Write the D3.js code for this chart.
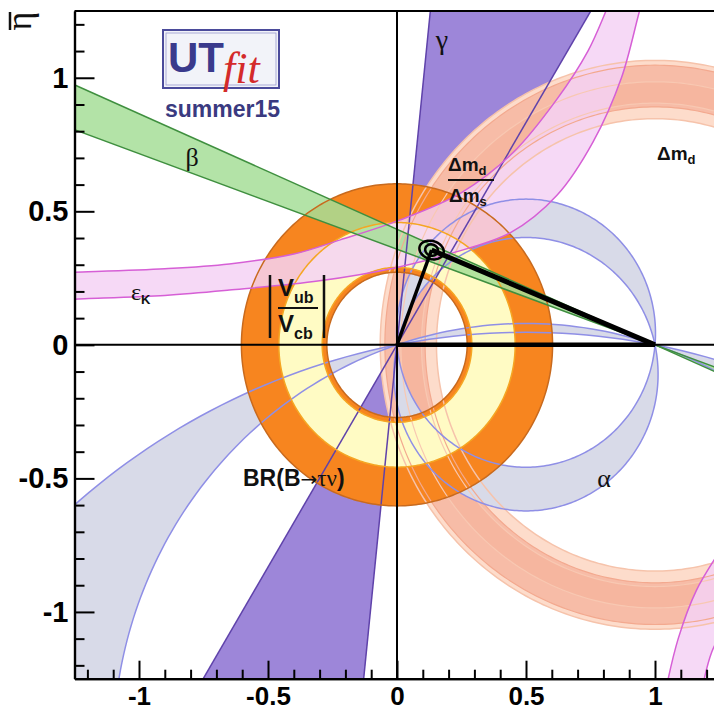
<!DOCTYPE html>
<html lang="en">
<head>
<meta charset="UTF-8" />
<title>UTfit summer15 - rho/eta plane</title>
<script src="https://d3js.org/d3.v7.min.js"></script>
<style>
  body { margin: 0; background: #fff; }
  svg { display: block; }
  .tick text { font-family: "Liberation Sans", Arial, sans-serif; font-weight: bold; font-size: 29px; fill: #000; }
  .xaxis .tick text { font-size: 26px; }
  .lbl { font-family: "Liberation Sans", Arial, sans-serif; font-weight: bold; fill: #111; }
  .greek { font-family: "Liberation Serif", "DejaVu Serif", serif; fill: #111; }
  .arrow { font-family: "DejaVu Sans", sans-serif; fill: #111; }
</style>
</head>
<body>
<div id="chart"></div>
<script>
  // apex of the triangle (rho, eta) and the size of its two contours
  const apex = [0.134, 0.355];
  const contourSizes = [[0.048, 0.034], [0.025, 0.021]];

  // angle constraints, degrees
  const gammaDeg = [59.0, 84.1];
  const betaDeg = [19.7, 23.4];
  const alphaDeg = [[85.0, 102.4], [161.8, 169.3]];

  // circle constraints: [inner, outer] radius
  const dmdRadii = [0.847, 1.065];
  const dmd68Radii = [0.891, 1.047];
  const dmsRadii = [0.905, 0.985];
  const brTauNuRadii = [0.272, 0.603];
  const vubVcbRadii = [0.29, 0.458];

  // eps_K band edges (rho, eta)
  const epsKUpper = [[-1.3, 0.27], [-1.25, 0.272], [-0.9, 0.285], [-0.65, 0.303], [-0.4, 0.34], [-0.22, 0.393],
    [0.01, 0.467], [0.25, 0.57], [0.45, 0.72], [0.62, 0.92], [0.74, 1.1], [0.81, 1.25], [0.84, 1.32]];
  const epsKLower = [[-1.3, 0.168], [-1.25, 0.171], [-0.9, 0.185], [-0.65, 0.205], [-0.3, 0.24], [0.0, 0.29],
    [0.2, 0.34], [0.44, 0.42], [0.62, 0.56], [0.76, 0.76], [0.87, 1.0], [0.94, 1.25], [0.97, 1.35]];
  const epsKBranchA = [[1.04, -1.3], [1.09, -1.1], [1.16, -0.92], [1.26, -0.76], [1.32, -0.68]];
  const epsKBranchB = [[1.18, -1.3], [1.22, -1.15], [1.28, -1.04], [1.32, -0.98]];

  const majorTicks = [-1, -0.5, 0, 0.5, 1];
  const minorTicks = [-1.2, -1.1, -0.9, -0.8, -0.7, -0.6, -0.4, -0.3, -0.2, -0.1,
    0.1, 0.2, 0.3, 0.4, 0.6, 0.7, 0.8, 0.9, 1.1, 1.2];

  const width = 714, height = 713;
  const svg = d3.select("#chart").append("svg").attr("width", width).attr("height", height);

  const x = d3.scaleLinear().domain([-1.25, 1.25]).range([74.5, 719.5]);
  const y = d3.scaleLinear().domain([-1.25, 1.25]).range([678.7, 11]);

  svg.append("defs").append("clipPath").attr("id", "plot").append("rect")
    .attr("x", x(-1.25)).attr("y", y(1.25))
    .attr("width", x(1.25) - x(-1.25)).attr("height", y(-1.25) - y(1.25));

  const plot = svg.append("g").attr("clip-path", "url(#plot)");

  const line = d3.line().x((d) => x(d[0])).y((d) => y(d[1]));
  const smooth = d3.line().x((d) => x(d[0])).y((d) => y(d[1])).curve(d3.curveCatmullRom);
  const rad = (d) => (d * Math.PI) / 180;
  const far = 4;

  function circle(cx, cy, r) {
    return d3.range(0, 361).map((i) => [cx + r * Math.cos(rad(i)), cy + r * Math.sin(rad(i))]);
  }
  const closed = (pts) => line(pts) + "Z";
  const ring = (cx, cy, r) => closed(circle(cx, cy, r[1])) + closed(circle(cx, cy, r[0]).reverse());
  const ray = (o, a) => [o[0] + far * Math.cos(rad(a)), o[1] + far * Math.sin(rad(a))];
  const wedge = (o, a0, a1) => closed([o, ray(o, a0), ray(o, a1)]);
  const fullLine = (o, a) => line([ray(o, a + 180), ray(o, a)]);
  const band = (up, lo) => smooth(up) + smooth(lo.slice().reverse()).replace(/^M/, "L") + "Z";
  // alpha: circles through (0,0) and (1,0)
  const alphaCircle = (a) => {
    const c = 0.5 / Math.tan(rad(a));
    return circle(0.5, c, Math.hypot(0.5, c));
  };

  // ---- fills ----
  plot.append("path")
    .attr("d", wedge([0, 0], gammaDeg[0], gammaDeg[1]) + wedge([0, 0], gammaDeg[0] + 180, gammaDeg[1] + 180))
    .attr("fill", "#9d86d9");

  plot.append("path").attr("d", ring(1, 0, dmdRadii)).attr("fill", "#fddccb").attr("fill-rule", "evenodd");
  plot.append("path").attr("d", ring(1, 0, dmd68Radii)).attr("fill", "#f7bca7").attr("fill-rule", "evenodd");
  plot.append("path").attr("d", ring(1, 0, dmsRadii)).attr("fill", "#f4ab92")
    .attr("fill-opacity", 0.35).attr("fill-rule", "evenodd");

  alphaDeg.forEach((a) => {
    plot.append("path")
      .attr("d", closed(alphaCircle(a[0])) + closed(alphaCircle(a[1])))
      .attr("fill", "#d8dae8").attr("fill-rule", "evenodd");
  });

  plot.append("path").attr("d", ring(0, 0, brTauNuRadii)).attr("fill", "#f7851f").attr("fill-rule", "evenodd");
  plot.append("path").attr("d", ring(0, 0, vubVcbRadii)).attr("fill", "#fffbc4").attr("fill-rule", "evenodd");

  plot.append("path").attr("d", band(epsKUpper, epsKLower))
    .attr("fill", "#f4d2f4").attr("fill-opacity", 0.85);
  plot.append("path").attr("d", band(epsKBranchA, epsKBranchB))
    .attr("fill", "#f4d2f4").attr("fill-opacity", 0.85);

  plot.append("path")
    .attr("d", wedge([1, 0], 180 - betaDeg[1], 180 - betaDeg[0]) + wedge([1, 0], -betaDeg[1], -betaDeg[0]))
    .attr("fill", "#a6de98").attr("fill-opacity", 0.85);

  // ---- edges ----
  const edge = (d, color, w) =>
    plot.append("path").attr("d", d).attr("fill", "none").attr("stroke", color).attr("stroke-width", w || 1.5);

  dmdRadii.forEach((r) => edge(closed(circle(1, 0, r)), "#f6c3ab"));
  dmd68Radii.forEach((r) => edge(closed(circle(1, 0, r)), "#f3a98f", 1.2));
  dmsRadii.forEach((r) => edge(closed(circle(1, 0, r)), "#f8c8b2", 1.2));

  alphaDeg.forEach((a) => a.forEach((v) => edge(closed(alphaCircle(v)), "#8f8fe6")));

  gammaDeg.forEach((a) => edge(fullLine([0, 0], a), "#5f42aa"));

  brTauNuRadii.forEach((r) => edge(closed(circle(0, 0, r)), "#c86a1e"));
  vubVcbRadii.forEach((r) => edge(closed(circle(0, 0, r)), "#f5a623"));

  [epsKUpper, epsKLower, epsKBranchA, epsKBranchB].forEach((pts) => edge(smooth(pts), "#d65fd6"));

  betaDeg.forEach((a) => edge(fullLine([1, 0], 180 - a), "#3f8f3f"));

  // ---- axes through origin ----
  plot.append("line").attr("x1", x(-1.25)).attr("x2", x(1.25)).attr("y1", y(0)).attr("y2", y(0))
    .attr("stroke", "#000").attr("stroke-width", 2);
  plot.append("line").attr("x1", x(0)).attr("x2", x(0)).attr("y1", y(-1.25)).attr("y2", y(1.25))
    .attr("stroke", "#000").attr("stroke-width", 2);

  // ---- triangle and contours ----
  plot.append("path").attr("d", line([[0, 0], [1, 0]])).attr("stroke", "#000").attr("stroke-width", 4.5);
  plot.append("path").attr("d", line([[0, 0], apex])).attr("stroke", "#000").attr("stroke-width", 3.5);
  plot.append("path").attr("d", line([apex, [1, 0]])).attr("stroke", "#000").attr("stroke-width", 5);

  contourSizes.forEach((s) => {
    const th = rad(-15);
    const pts = d3.range(0, 361, 5).map((i) => {
      const t = rad(i);
      const u = s[0] * Math.cos(t), v = s[1] * Math.sin(t);
      return [apex[0] + u * Math.cos(th) - v * Math.sin(th), apex[1] + u * Math.sin(th) + v * Math.cos(th)];
    });
    plot.append("path").attr("d", closed(pts)).attr("fill", "none").attr("stroke", "#000").attr("stroke-width", 2.5);
  });

  // ---- frame and ticks ----
  const axisStyle = (g) => {
    g.selectAll("line").attr("stroke", "#000").attr("stroke-width", 2);
    g.select(".domain").attr("stroke", "#000").attr("stroke-width", 2.2);
  };

  svg.append("g").attr("transform", `translate(${x(-1.25)},0)`)
    .call(d3.axisLeft(y).tickValues(minorTicks).tickSize(-10).tickSizeOuter(0).tickFormat(""))
    .call(axisStyle);
  svg.append("g").attr("transform", `translate(${x(-1.25)},0)`)
    .call(d3.axisLeft(y).tickValues(majorTicks).tickSize(-20).tickSizeOuter(0).tickPadding(6).tickFormat((d) => String(d)))
    .call(axisStyle);

  svg.append("g").attr("transform", `translate(0,${y(-1.25)})`)
    .call(d3.axisBottom(x).tickValues(minorTicks).tickSize(-9).tickSizeOuter(0).tickFormat(""))
    .call(axisStyle);
  svg.append("g").attr("class", "xaxis").attr("transform", `translate(0,${y(-1.25)})`)
    .call(d3.axisBottom(x).tickValues(majorTicks).tickSize(-18).tickSizeOuter(0).tickPadding(8).tickFormat((d) => String(d)))
    .call(axisStyle);

  svg.append("line").attr("x1", x(-1.25)).attr("x2", x(1.25)).attr("y1", y(1.25)).attr("y2", y(1.25))
    .attr("stroke", "#000").attr("stroke-width", 2.2);
  svg.append("line").attr("x1", x(1.25)).attr("x2", x(1.25)).attr("y1", y(1.25)).attr("y2", y(-1.25))
    .attr("stroke", "#000").attr("stroke-width", 2.2);

  // y axis title: eta-bar, rotated
  const yt = svg.append("g").attr("transform", "translate(31,21) rotate(-90)");
  yt.append("text").attr("class", "greek").attr("text-anchor", "middle").attr("font-size", 36).text("η");
  yt.append("line").attr("x1", -9).attr("x2", 9).attr("y1", -21).attr("y2", -21).attr("stroke", "#111").attr("stroke-width", 2.5);

  // ---- logo ----
  const logo = svg.append("g");
  logo.append("rect").attr("x", 163).attr("y", 30).attr("width", 116).attr("height", 58)
    .attr("fill", "#f2f3f9").attr("stroke", "#4b4b9b").attr("stroke-width", 2);
  logo.append("rect").attr("x", 166).attr("y", 33).attr("width", 110).attr("height", 52)
    .attr("fill", "none").attr("stroke", "#9a9ad0").attr("stroke-width", 0.8);
  logo.append("text").attr("x", 168).attr("y", 72).attr("class", "lbl").attr("font-size", 42)
    .style("fill", "#3a3a8c").text("UT");
  logo.append("text").attr("x", 223).attr("y", 83)
    .attr("font-family", "Liberation Serif, serif").attr("font-style", "italic").attr("font-size", 44)
    .attr("fill", "#d42a2a").text("fit");
  logo.append("text").attr("x", 165).attr("y", 117).attr("class", "lbl").attr("font-size", 23)
    .style("fill", "#3a3a80").text("summer15");

  // ---- constraint labels ----
  svg.append("text").attr("class", "greek").attr("x", 442).attr("y", 49).attr("text-anchor", "middle")
    .attr("font-size", 28).text("γ");
  svg.append("text").attr("class", "greek").attr("x", 192).attr("y", 166).attr("text-anchor", "middle")
    .attr("font-size", 26).text("β");
  svg.append("text").attr("class", "greek").attr("x", 604).attr("y", 487).attr("text-anchor", "middle")
    .attr("font-size", 26).text("α");

  const eps = svg.append("text").attr("x", 131).attr("y", 300);
  eps.append("tspan").attr("class", "greek").attr("font-size", 24).text("ε");
  eps.append("tspan").attr("class", "lbl").attr("font-size", 13).attr("dy", 4).text("K");

  const dm = (xp, yp, sub) => {
    const t = svg.append("text").attr("x", xp).attr("y", yp).attr("class", "lbl").attr("font-size", 19);
    t.append("tspan").text("Δm");
    t.append("tspan").attr("font-size", 13).attr("dy", 4).text(sub);
  };
  dm(657, 160, "d");
  dm(448, 171, "d");
  svg.append("line").attr("x1", 448).attr("x2", 494).attr("y1", 180).attr("y2", 180)
    .attr("stroke", "#111").attr("stroke-width", 2);
  dm(449, 202, "s");

  // |Vub/Vcb|
  const v = (yp, sub) => {
    const t = svg.append("text").attr("x", 278).attr("y", yp).attr("class", "lbl").attr("font-size", 24);
    t.append("tspan").text("V");
    t.append("tspan").attr("font-size", 16).attr("dy", 7).text(sub);
  };
  v(296, "ub");
  v(332, "cb");
  svg.append("line").attr("x1", 278).attr("x2", 318).attr("y1", 308).attr("y2", 308)
    .attr("stroke", "#111").attr("stroke-width", 2);
  [270, 324].forEach((xp) =>
    svg.append("line").attr("x1", xp).attr("x2", xp).attr("y1", 275).attr("y2", 338)
      .attr("stroke", "#111").attr("stroke-width", 2.5));

  const br = svg.append("text").attr("x", 243).attr("y", 486).attr("font-size", 23);
  br.append("tspan").attr("class", "lbl").text("BR(B");
  br.append("tspan").attr("class", "arrow").attr("font-size", 20).text("→");
  br.append("tspan").attr("class", "greek").text("τν");
  br.append("tspan").attr("class", "lbl").text(")");
</script>
</body>
</html>
